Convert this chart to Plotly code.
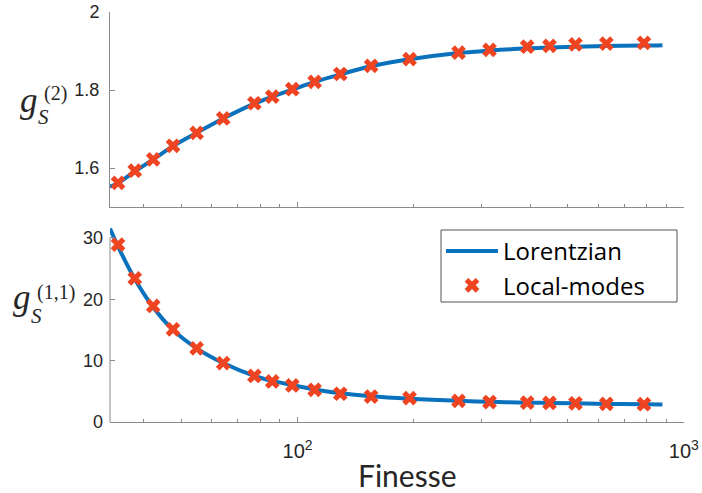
import plotly.graph_objects as go

# ---- data ----
finesse_pts = [34.3, 37.9, 42.3, 47.6, 54.8, 64.2, 77.3, 86.0, 96.9, 110.7,
               129, 155, 195, 261, 314, 393, 449, 524, 630, 788]
g2_local = [1.562, 1.593, 1.622, 1.657, 1.690, 1.727, 1.766, 1.783, 1.802, 1.821,
            1.841, 1.862, 1.879, 1.896, 1.903, 1.911, 1.913, 1.917, 1.919, 1.921]
g11_local = [28.9, 23.4, 18.9, 15.1, 12.0, 9.6, 7.5, 6.6, 5.95, 5.25,
             4.6, 4.15, 3.9, 3.45, 3.25, 3.15, 3.1, 3.05, 2.95, 2.9]

finesse_line = [32.7, 34.3, 37.9, 42.3, 47.6, 54.8, 64.2, 77.3, 86.0, 96.9, 110.7,
                129, 155, 195, 261, 314, 393, 449, 524, 630, 788, 880]
g2_lorentz = [1.552, 1.561, 1.591, 1.622, 1.656, 1.690, 1.727, 1.765, 1.783, 1.801, 1.821,
              1.840, 1.861, 1.879, 1.895, 1.901, 1.907, 1.909, 1.911, 1.913, 1.914, 1.915]
g11_lorentz = [31.5, 28.6, 23.3, 18.7, 15.0, 12.0, 9.6, 7.5, 6.7, 6.0, 5.3,
               4.7, 4.2, 3.8, 3.45, 3.3, 3.15, 3.1, 3.05, 2.95, 2.9, 2.85]

x_major_ticks = [100, 1000]
x_major_text = ["10<sup>2</sup>", "10<sup>3</sup>"]
x_minor_ticks = [40, 50, 60, 70, 80, 90, 200, 300, 400, 500, 600, 700, 800, 900]
top_yticks = [1.6, 1.8, 2.0]
top_yticktext = ["1.6", "1.8", "2"]
bot_yticks = [0, 10, 20, 30]

LINE_C = "#0A72BD"
MARK_C = "#EE4422"
AX_C = "#8a8a8a"
TXT_C = "#262626"

W, H = 702, 493
ML, MR, MT, MB = 110, 18, 12, 71
PW, PH = W - ML - MR, H - MT - MB


def px(xp):
    return (xp - ML) / PW


def py(yp):
    return (H - MB - yp) / PH


fig = go.Figure()
fig.add_trace(go.Scatter(x=finesse_line, y=g2_lorentz, mode="lines", line=dict(color=LINE_C, width=4, shape="spline"),
                         xaxis="x", yaxis="y", showlegend=False))
fig.add_trace(go.Scatter(x=finesse_pts, y=g2_local, mode="markers",
                         marker=dict(symbol="x", size=13, color=MARK_C, line=dict(width=0)),
                         xaxis="x", yaxis="y", showlegend=False))
fig.add_trace(go.Scatter(x=finesse_line, y=g11_lorentz, mode="lines", name="Lorentzian",
                         line=dict(color=LINE_C, width=4, shape="spline"), xaxis="x2", yaxis="y2"))
fig.add_trace(go.Scatter(x=finesse_pts, y=g11_local, mode="markers", name="Local-modes",
                         marker=dict(symbol="x", size=13, color=MARK_C, line=dict(width=0)),
                         xaxis="x2", yaxis="y2", cliponaxis=False))

tickfont = dict(family="Liberation Sans, Arial, sans-serif", size=18, color=TXT_C)
xtickfont = dict(family="Liberation Sans, Arial, sans-serif", size=20, color=TXT_C)
xcommon = dict(type="log", range=[1.5145, 3.0003], tickmode="array", tickvals=x_major_ticks,
               ticktext=x_major_text,
               ticks="inside", ticklen=5, tickcolor=AX_C, showline=True, linecolor=AX_C, linewidth=1,
               showgrid=False, zeroline=False, tickfont=xtickfont, automargin=False,
               minor=dict(tickvals=x_minor_ticks, ticks="inside", ticklen=3, tickcolor=AX_C, showgrid=False))

top_dom = [py(207), 1.0]
bot_dom = [0.0, py(228)]

fig.update_layout(
    width=W, height=H, margin=dict(l=ML, r=MR, t=MT, b=MB, autoexpand=False),
    paper_bgcolor="white", plot_bgcolor="white",
    xaxis=dict(xcommon, anchor="y", showticklabels=False, domain=[0, 1]),
    yaxis=dict(domain=top_dom, range=[1.5, 2.0], tickvals=top_yticks, ticktext=top_yticktext,
               ticks="inside", ticklen=5, tickcolor=AX_C, showline=True, linecolor=AX_C, linewidth=1,
               showgrid=False, zeroline=False, tickfont=tickfont, ticklabelstandoff=6, automargin=False),
    xaxis2=dict(xcommon, anchor="y2", showticklabels=True, domain=[0, 1], ticklabelstandoff=11),
    yaxis2=dict(domain=bot_dom, range=[0, 31.6], tickvals=bot_yticks,
                ticks="inside", ticklen=5, tickcolor=AX_C, showline=False,
                showgrid=False, zeroline=False, tickfont=tickfont, ticklabelstandoff=6, automargin=False),
    legend=dict(x=px(441), xanchor="left", y=py(229), yanchor="top",
                bgcolor="rgba(0,0,0,0)", borderwidth=0,
                font=dict(family="Open Sans, Lato, sans-serif", size=24, color="black"),
                itemwidth=52, tracegroupgap=0),
    shapes=[
        dict(type="line", xref="x2 domain", yref="y2", x0=0, x1=0, y0=0, y1=30,
             line=dict(color=AX_C, width=1)),
        # legend frame
        dict(type="rect", xref="paper", yref="paper", x0=px(441), x1=px(677), y0=py(302), y1=py(230),
             fillcolor="white", line=dict(color="#555555", width=1), layer="above"),
    ],
)

serif = "Liberation Serif, Times New Roman, serif"
ann = []


def add_label(text, xp, yp, size, italic=True):
    t = "<i>%s</i>" % text if italic else text
    ann.append(dict(text=t, x=px(xp), y=py(yp), xref="paper", yref="paper", showarrow=False,
                    xanchor="center", yanchor="middle",
                    font=dict(family=serif, size=size, color=TXT_C)))


add_label("g", 29, 101, 35)
add_label("S", 43, 117, 21)
add_label("(2)", 55, 94, 20, italic=False)
add_label("g", 22, 297, 35)
add_label("S", 36, 316, 21)
add_label("(1,1)", 56, 292, 20, italic=False)

ann.append(dict(text="Finesse", x=px(407), y=py(475), xref="paper", yref="paper", showarrow=False,
                xanchor="center", yanchor="middle",
                font=dict(family="Lato, Open Sans, sans-serif", size=30, color=TXT_C)))
fig.update_layout(annotations=ann)

fig.write_html("out.html")
